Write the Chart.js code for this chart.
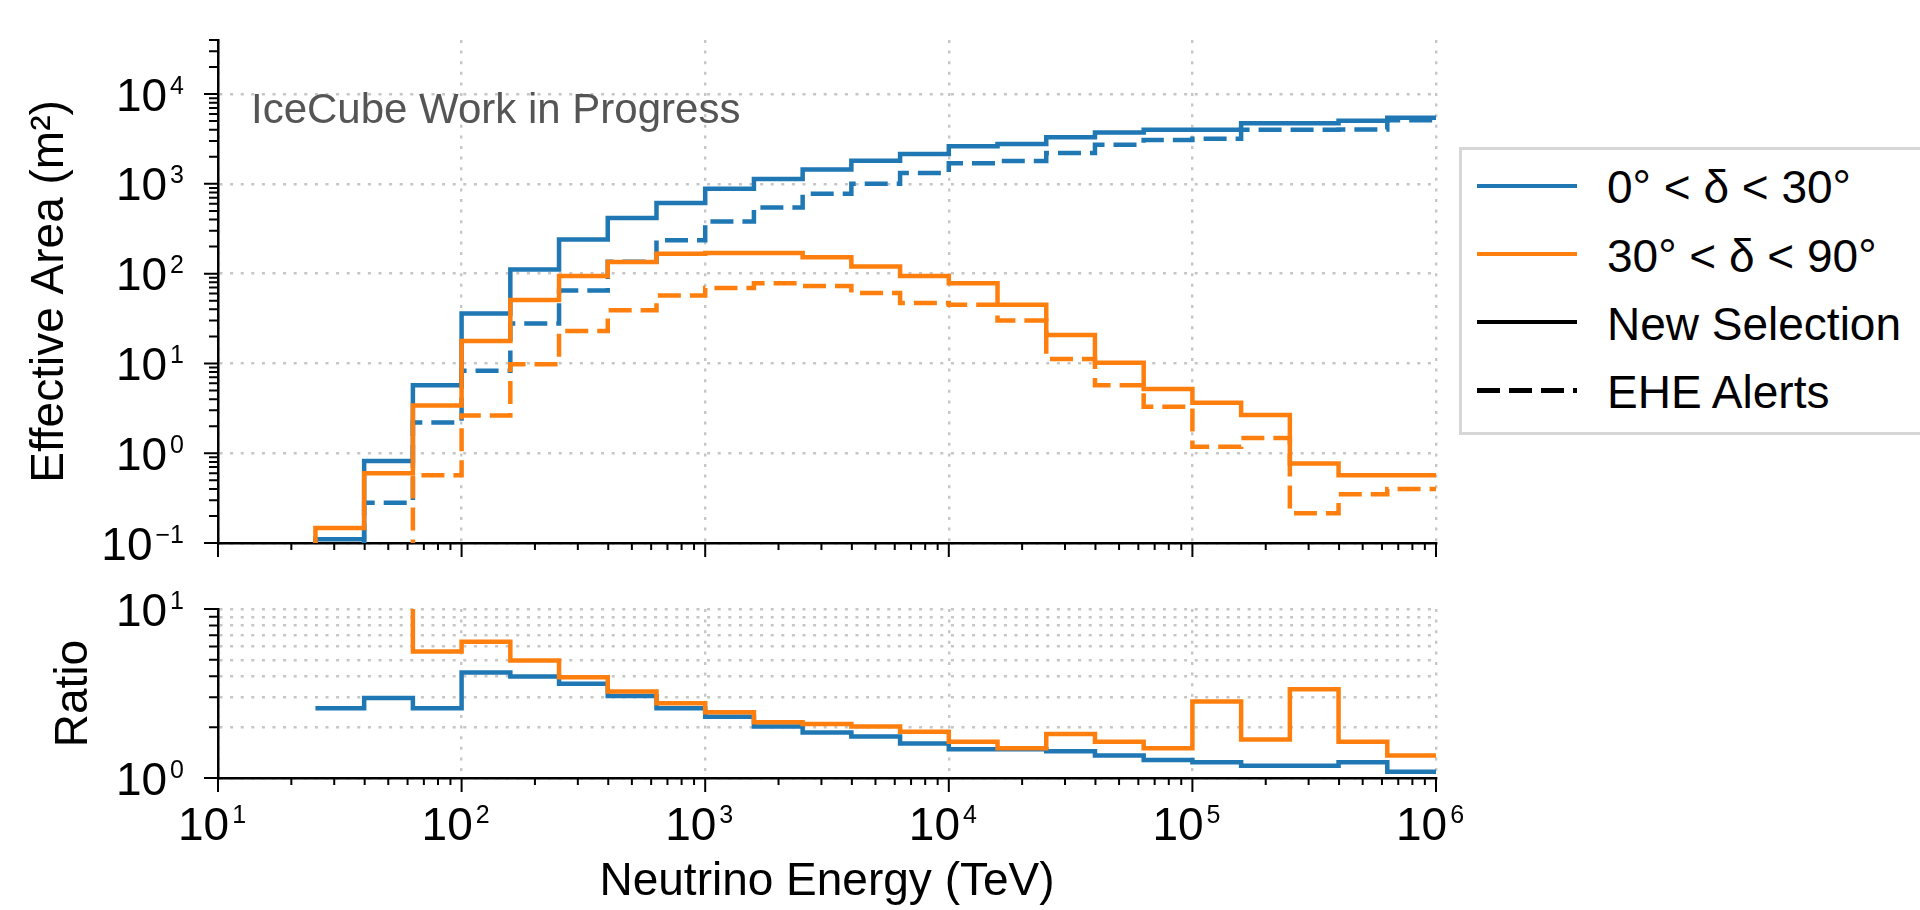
<!DOCTYPE html>
<html lang="en">
<head>
<meta charset="utf-8">
<title>Effective Area — New Selection vs EHE Alerts</title>
<script src="https://cdn.jsdelivr.net/npm/chart.js@4.4.1/dist/chart.umd.min.js"></script>
<style>
  html, body { margin: 0; padding: 0; background: #fff; }
  body {
    position: relative;
    width: 1920px;
    height: 910px;
    overflow: hidden;
    font-family: 'Liberation Sans', Arial, Helvetica, sans-serif;
  }
  canvas { position: absolute; left: 0; }
  #area-chart { top: 0; }
  #ratio-chart { top: 560px; }
  .watermark {
    position: absolute;
    left: 251px;
    top: 88px;
    font-size: 42px;
    line-height: 42px;
    color: #555;
    white-space: nowrap;
  }
  .legend {
    position: absolute;
    left: 1459px;
    top: 147px;
    width: 520px;
    height: 288px;
    box-sizing: border-box;
    border: 3px solid #d6d6d6;
    background: #fff;
  }
  .legend .swatch { position: absolute; left: 15px; width: 100px; height: 4.5px; }
  .legend .label {
    position: absolute;
    left: 145px;
    font-size: 46px;
    line-height: 46px;
    color: #000;
    white-space: nowrap;
  }
</style>
</head>
<body>
<canvas id="area-chart" width="1920" height="590"></canvas>
<canvas id="ratio-chart" width="1920" height="350"></canvas>
<div class="watermark">IceCube Work in Progress</div>
<div class="legend" id="legend"></div>

<script>
// =============================================
// Effective area vs neutrino energy + ratio panel
// =============================================

// bin edges (TeV), five log bins per decade
const BIN_EDGES = [25.12, 39.81, 63.10, 100, 158.5, 251.2, 398.1, 631.0,
  1000, 1585, 2512, 3981, 6310, 10000, 15850, 25120, 39810, 63100,
  100000, 158500, 251200, 398100, 631000, 1000000];

// effective area per bin (m^2), 0° < δ < 30°
const AREA_LOW_NEW = [0.11, 0.82, 5.7, 36, 111, 240, 416, 611, 880, 1130, 1443, 1810,
  2155, 2630, 2780, 3300, 3720, 4010, 4010, 4730, 4730, 5040, 5450];
const AREA_LOW_EHE = [0.042, 0.28, 2.2, 8.3, 27.9, 65, 136, 236, 380, 545, 774, 1000,
  1320, 1700, 1800, 2200, 2733, 3080, 3180, 4010, 4010, 4030, 5100];

// effective area per bin (m^2), 30° < δ < 90°
const AREA_HIGH_NEW = [0.147, 0.6, 3.4, 17.8, 50.8, 94, 135, 167, 170, 170, 152, 120,
  94, 78, 45, 20.7, 10.2, 5.2, 3.65, 2.66, 0.77, 0.57, 0.57];
const AREA_HIGH_EHE = [null, null, 0.57, 2.63, 9.8, 23, 39, 57, 69, 78, 73, 61,
  47, 45, 30, 11.2, 5.7, 3.3, 1.18, 1.48, 0.214, 0.35, 0.40];

// ratio New Selection / EHE Alerts
const RATIO_LOW = [2.59, 2.97, 2.59, 4.21, 3.98, 3.61, 3.06, 2.59, 2.30, 2.02, 1.86, 1.76,
  1.60, 1.48, 1.48, 1.44, 1.36, 1.28, 1.24, 1.18, 1.18, 1.24, 1.09];
const RATIO_HIGH = [null, null, 5.6, 6.4, 4.95, 3.95, 3.25, 2.77, 2.45, 2.14, 2.09, 2.02,
  1.88, 1.64, 1.50, 1.82, 1.64, 1.50, 2.84, 1.69, 3.35, 1.64, 1.36];

// axes
const X_RANGE = [10, 1e6];
const AREA_RANGE = [0.1, 4e4];
const RATIO_RANGE = [1, 10];
const MANTISSAS = [1, 2, 3, 4, 5, 6, 7, 8, 9];

const LEGEND_ITEMS = [
  { text: '0° < δ < 30°',  color: '#1f77b4', dashed: false },
  { text: '30° < δ < 90°', color: '#ff7f0e', dashed: false },
  { text: 'New Selection', color: '#000',    dashed: false },
  { text: 'EHE Alerts',    color: '#000',    dashed: true  },
];

const FONT = "'Liberation Sans', Arial, Helvetica, sans-serif";
const BLUE = '#1f77b4';
const ORANGE = '#ff7f0e';
const GRID_COLOR = '#c6c6c6';
const GRID_DASH = [3, 7.6];
const LINE_DASH = [23, 9];
const HIST_FLOOR = 1e-3;  // histogram steps rise from zero, below the axis
const RATIO_CEIL = 1e3;   // ratio is unbounded where EHE is empty
const TICK_PX = 46;
const EXP_PX = 25;

Chart.defaults.font.family = FONT;
Chart.defaults.color = '#000';

// --- Helpers ---

function stepPoints(values, base) {
  const pts = [];
  values.forEach((v, i) => {
    if (v === null) return;
    if (pts.length === 0 && base !== null) pts.push({ x: BIN_EDGES[i], y: base });
    pts.push({ x: BIN_EDGES[i], y: v });
  });
  pts.push({ x: BIN_EDGES[values.length], y: values[values.length - 1] });
  return pts;
}

function logTicks(min, max) {
  const out = [];
  for (let e = Math.floor(Math.log10(min)); e <= Math.ceil(Math.log10(max)); e++) {
    MANTISSAS.forEach(m => {
      const v = m * Math.pow(10, e);
      if (v >= min * 0.999 && v <= max * 1.001) out.push({ value: v, major: m === 1 });
    });
  }
  return out;
}

function expText(v) {
  const e = Math.round(Math.log10(v));
  return e < 0 ? '\u2212' + (-e) : String(e);
}

function drawPower(ctx, exp, x, baseline, align) {
  ctx.font = `${TICK_PX}px ${FONT}`;
  const wBase = ctx.measureText('10').width;
  ctx.font = `${EXP_PX}px ${FONT}`;
  const wExp = ctx.measureText(exp).width;
  const left = align === 'right' ? x - wBase - 3 - wExp : x;
  ctx.textAlign = 'left';
  ctx.textBaseline = 'alphabetic';
  ctx.font = `${TICK_PX}px ${FONT}`;
  ctx.fillText('10', left, baseline);
  ctx.font = `${EXP_PX}px ${FONT}`;
  ctx.fillText(exp, left + wBase + 3, baseline - 17);
}

// tick marks (long major / short minor) and 10^n labels
const axisDecor = {
  id: 'axisDecor',
  afterDraw(chart, args, opts) {
    const { ctx, chartArea: a, scales: { x, y } } = chart;
    ctx.save();
    ctx.strokeStyle = '#000';
    ctx.lineWidth = 2;
    ctx.beginPath();
    x.ticks.forEach(t => {
      const px = x.getPixelForValue(t.value);
      ctx.moveTo(px, a.bottom);
      ctx.lineTo(px, a.bottom + (t.major ? 14 : 7));
    });
    y.ticks.forEach(t => {
      const py = y.getPixelForValue(t.value);
      ctx.moveTo(a.left - (t.major ? 14 : 9), py);
      ctx.lineTo(a.left, py);
    });
    ctx.stroke();

    ctx.fillStyle = '#000';
    y.ticks.filter(t => t.major).forEach(t => {
      drawPower(ctx, expText(t.value), a.left - 34, y.getPixelForValue(t.value) + 16.5, 'right');
    });
    if (opts.xLabels) {
      x.ticks.filter(t => t.major).forEach(t => {
        drawPower(ctx, expText(t.value), x.getPixelForValue(t.value) - 40, a.bottom + 62, 'left');
      });
    }
    ctx.restore();
  }
};

function stepDataset(label, values, base, color, dashed, order) {
  return {
    label,
    data: stepPoints(values, base),
    stepped: 'before',
    borderColor: color,
    borderWidth: 4.5,
    borderDash: dashed ? LINE_DASH : [],
    pointRadius: 0,
    fill: false,
    order,
  };
}

function logAxis(range, minorGrid, title, fit) {
  return {
    type: 'logarithmic',
    min: range[0],
    max: range[1],
    afterBuildTicks: s => { s.ticks = logTicks(range[0], range[1]); },
    afterFit: fit,
    ticks: { display: false, callback: () => '' },
    grid: {
      color: c => (c.tick && (c.tick.major || minorGrid)) ? GRID_COLOR : 'rgba(0,0,0,0)',
      lineWidth: 2.4,
      drawTicks: false,
    },
    border: { display: true, color: '#000', width: 2.5, dash: GRID_DASH },
    title,
  };
}

function baseOptions(padTop, xAxis, yAxis, xLabels) {
  return {
    responsive: false,
    animation: false,
    events: [],
    layout: { padding: { top: padTop, right: 484, left: 0, bottom: 0 } },
    plugins: {
      legend: { display: false },
      tooltip: { enabled: false },
      axisDecor: { xLabels },
    },
    scales: { x: xAxis, y: yAxis },
  };
}

// 1. Effective area panel
new Chart(document.getElementById('area-chart'), {
  type: 'line',
  data: {
    datasets: [
      stepDataset('0° < δ < 30° New Selection', AREA_LOW_NEW, HIST_FLOOR, BLUE, false, 4),
      stepDataset('0° < δ < 30° EHE Alerts', AREA_LOW_EHE, HIST_FLOOR, BLUE, true, 3),
      stepDataset('30° < δ < 90° New Selection', AREA_HIGH_NEW, HIST_FLOOR, ORANGE, false, 2),
      stepDataset('30° < δ < 90° EHE Alerts', AREA_HIGH_EHE, HIST_FLOOR, ORANGE, true, 1),
    ]
  },
  options: baseOptions(40,
    logAxis(X_RANGE, false, { display: false }, s => { s.height = 47; }),
    logAxis(AREA_RANGE, false,
      { display: true, text: 'Effective Area (m²)', font: { size: 46 }, padding: { top: 23, bottom: 0 } },
      s => { s.width = 218; }),
    false),
  plugins: [axisDecor],
});

// 2. Ratio panel
new Chart(document.getElementById('ratio-chart'), {
  type: 'line',
  data: {
    datasets: [
      stepDataset('0° < δ < 30°', RATIO_LOW, null, BLUE, false, 2),
      stepDataset('30° < δ < 90°', RATIO_HIGH, RATIO_CEIL, ORANGE, false, 1),
    ]
  },
  options: baseOptions(49,
    logAxis(X_RANGE, false,
      { display: true, text: 'Neutrino Energy (TeV)', font: { size: 46 }, padding: { top: 0, bottom: 0 } },
      s => { s.height = 132; }),
    logAxis(RATIO_RANGE, true,
      { display: true, text: 'Ratio', font: { size: 46 }, padding: { top: 47, bottom: 0 } },
      s => { s.width = 218; }),
    true),
  plugins: [axisDecor],
});

// legend box
const legendEl = document.getElementById('legend');
LEGEND_ITEMS.forEach((item, i) => {
  const sw = document.createElement('div');
  sw.className = 'swatch';
  sw.style.top = (33.5 + i * 68.2) + 'px';
  sw.style.background = item.dashed
    ? `repeating-linear-gradient(to right, ${item.color} 0 23px, transparent 23px 32px)`
    : item.color;
  const lab = document.createElement('div');
  lab.className = 'label';
  lab.style.top = (14.4 + i * 68.2) + 'px';
  lab.textContent = item.text;
  legendEl.appendChild(sw);
  legendEl.appendChild(lab);
});
</script>
</body>
</html>
